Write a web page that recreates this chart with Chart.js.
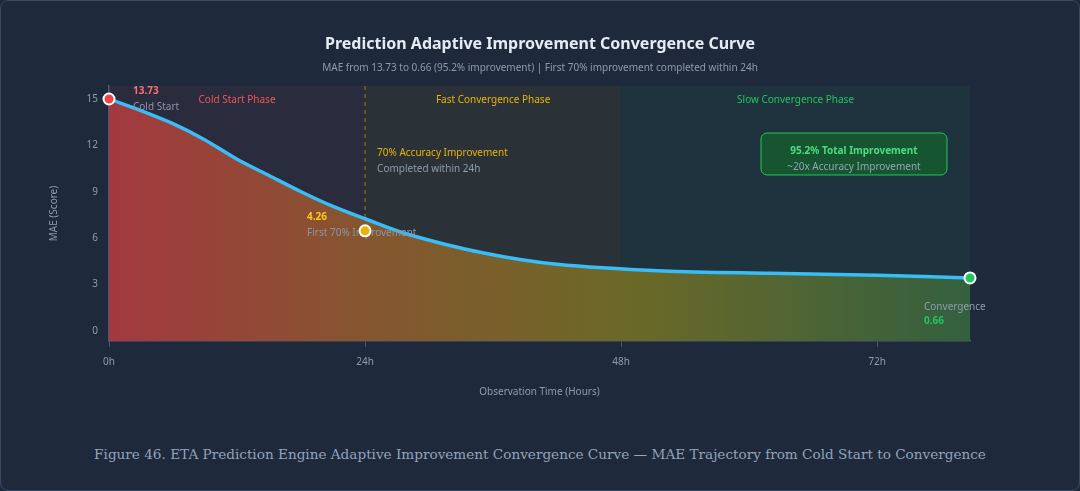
<!DOCTYPE html>
<html lang="en">
<head>
<meta charset="UTF-8">
<title>Prediction Adaptive Improvement Convergence Curve</title>
<style>
    body{
        margin: 0;
        background: #1e293b;
    }
    .frame{
        position: absolute;
        left: 0; top: 0;
        width: 1080px; height: 491px;
        box-sizing: border-box;
        border: 1px solid #3a4860;
        border-radius: 8px;
        background: #1e2a3c;
    }
    .chartbox{
        position: absolute;
        left: 0; top: 0;
        width: 1080px; height: 430px;
    }
    .caption{
        position: absolute;
        left: 0; top: 446px;
        width: 1080px;
        text-align: center;
        font-family: "DejaVu Serif", serif;
        font-size: 13.6px;
        color: #93a3ba;
    }
</style>
</head>
<body>
<div class="frame"></div>
<div class="chartbox">
    <canvas id="maeChart" width="1080" height="430"></canvas>
</div>
<div class="caption">Figure 46. ETA Prediction Engine Adaptive Improvement Convergence Curve — MAE Trajectory from Cold Start to Convergence</div>

<script src="https://cdn.jsdelivr.net/npm/chart.js"></script>
<script>
// curve (hours, score on the drawn axis)
var hours = [0, 3, 6, 9, 12, 15, 18, 21, 24, 28, 35, 42, 52, 62, 72, 80.7];
var maeCurve = [15.0, 14.25, 13.4, 12.35, 11.1, 10.05, 9.0, 8.05, 7.25, 6.25, 5.05, 4.3, 3.87, 3.72, 3.6, 3.42];

// milestone markers: cold start, 24h, convergence
var milestoneHours = [0, 24, 80.7];
var milestoneValues = [15.0, 6.47, 3.42];
var milestoneColors = ['#ef4444', '#eab308', '#22c55e'];

// phase bands
var phaseNames = ['Cold Start Phase', 'Fast Convergence Phase', 'Slow Convergence Phase'];
var phaseStart = [0, 24, 48];
var phaseEnd = [24, 48, 80.7];
var phaseColors = ['rgba(239,68,68,0.06)', 'rgba(234,179,8,0.06)', 'rgba(34,197,94,0.06)'];
var phaseTextColors = ['#f05656', '#eab308', '#22c55e'];

var xTicks = [0, 24, 48, 72];
var yTicks = [0, 3, 6, 9, 12, 15];

var FONT = '"Noto Sans", "Open Sans", sans-serif';

var curvePoints = [];
for (var i = 0; i < hours.length; i++) {
    curvePoints.push({x: hours[i], y: maeCurve[i]});
}
var markerPoints = [];
for (var i = 0; i < milestoneHours.length; i++) {
    markerPoints.push({x: milestoneHours[i], y: milestoneValues[i]});
}

function txt(ctx, s, x, y, color, bold, align) {
    ctx.font = (bold ? 'bold ' : '') + '10px ' + FONT;
    ctx.fillStyle = color;
    ctx.textAlign = align || 'left';
    ctx.textBaseline = 'middle';
    ctx.fillText(s, x, y);
}

var bgPlugin = {//背景的階段色塊 + 標題
    id: 'bands',
    beforeDatasetsDraw: function(chart) {
        var ctx = chart.ctx;
        var xs = chart.scales.x;
        var a = chart.chartArea;
        ctx.save();
        for (var i = 0; i < phaseNames.length; i++) {
            var l = xs.getPixelForValue(phaseStart[i]);
            var r = xs.getPixelForValue(phaseEnd[i]);
            ctx.fillStyle = phaseColors[i];
            ctx.fillRect(l, a.top, r - l, a.bottom - a.top);
            txt(ctx, phaseNames[i], (l + r) / 2, a.top + 14, phaseTextColors[i], false, 'center');
        }
        // 24h dashed line
        var x24 = xs.getPixelForValue(24);
        ctx.beginPath();
        ctx.setLineDash([4, 4]);
        ctx.moveTo(x24, a.top);
        ctx.lineTo(x24, a.bottom);
        ctx.lineWidth = 1;
        ctx.strokeStyle = 'rgba(202,138,4,0.8)';
        ctx.stroke();
        ctx.setLineDash([]);
        ctx.restore();
    },
    afterDraw: function(chart) {
        var ctx = chart.ctx;
        ctx.save();
        ctx.font = 'bold 16px ' + FONT;
        ctx.fillStyle = '#e5ebf3';
        ctx.textAlign = 'center';
        ctx.textBaseline = 'middle';
        ctx.fillText('Prediction Adaptive Improvement Convergence Curve', 540, 44);
        txt(ctx, 'MAE from 13.73 to 0.66 (95.2% improvement) | First 70% improvement completed within 24h', 540, 68, '#8d9bb0', false, 'center');
        ctx.restore();
    }
};

var notePlugin = {//曲線上的文字說明
    id: 'notes',
    afterDatasetDraw: function(chart, args) {
        if (args.index !== 1) return;
        var ctx = chart.ctx;
        var xs = chart.scales.x;
        var ys = chart.scales.y;
        var a = chart.chartArea;
        ctx.save();
        var x0 = xs.getPixelForValue(0), y0 = ys.getPixelForValue(15);
        txt(ctx, '13.73', x0 + 24, y0 - 8, '#f87171', true);
        txt(ctx, 'Cold Start', x0 + 24, y0 + 8, '#8a96a8');

        var x24 = xs.getPixelForValue(24);
        txt(ctx, '70% Accuracy Improvement', x24 + 12, ys.getPixelForValue(11.5), '#eab308');
        txt(ctx, 'Completed within 24h', x24 + 12, ys.getPixelForValue(10.45), '#8f9cae');

        var ym = ys.getPixelForValue(6.47);
        txt(ctx, '4.26', x24 - 58, ym - 14, '#facc15', true);
        txt(ctx, 'First 70% Improvement', x24 - 58, ym + 2, '#8a96a8');

        // summary box
        var bx = a.right - 209, by = ys.getPixelForValue(12.8), bw = 186, bh = 42;
        ctx.beginPath();
        ctx.roundRect(bx, by, bw, bh, 6);
        ctx.fillStyle = '#175530';
        ctx.fill();
        ctx.lineWidth = 1;
        ctx.strokeStyle = '#22c55e';
        ctx.stroke();
        txt(ctx, '95.2% Total Improvement', bx + bw / 2, by + 18, '#4ade80', true, 'center');
        txt(ctx, '~20x Accuracy Improvement', bx + bw / 2, by + 34, '#94a3b8', false, 'center');

        var xe = xs.getPixelForValue(80.7);
        txt(ctx, 'Convergence', xe - 46, ys.getPixelForValue(1.5), '#8f9cae');
        txt(ctx, '0.66', xe - 46, ys.getPixelForValue(0.6), '#22c55e', true);
        ctx.restore();
    }
};

var ctx2 = document.getElementById('maeChart').getContext('2d');
var maeChart = new Chart(ctx2, {
    type: 'line',
    data: {
        datasets: [{
            type: 'scatter',
            label: 'milestones',
            data: markerPoints,
            pointRadius: 5.5,
            pointHoverRadius: 5.5,
            pointBorderWidth: 2,
            pointBorderColor: '#ffffff',
            pointBackgroundColor: milestoneColors,
            showLine: false,
            clip: false
        }, {
            label: 'MAE',
            data: curvePoints,
            borderColor: '#38bdf8',
            borderWidth: 3.5,
            pointRadius: 0,
            tension: 0.3,
            fill: 'start',
            backgroundColor: function(c) {
                var a = c.chart.chartArea;
                if (!a) return 'rgba(160,60,60,0.8)';
                var g = c.chart.ctx.createLinearGradient(a.left, 0, a.right, 0);
                g.addColorStop(0, '#a3383f');
                g.addColorStop(0.3, '#85562f');
                g.addColorStop(0.6, '#6c6927');
                g.addColorStop(1, '#33603f');
                return g;
            }
        }]
    },
    options: {
        responsive: false,
        animation: false,
        devicePixelRatio: 1,
        layout: {
            padding: {left: 45, right: 110, top: 86, bottom: 28}
        },
        plugins: {
            legend: {display: false},
            tooltip: {enabled: false}
        },
        scales: {
            x: {
                type: 'linear',
                min: 0,
                max: 80.7,
                afterBuildTicks: function(s) { s.ticks = xTicks.map(function(v){ return {value: v}; }); },
                afterFit: function(s) { s.height = 61; },
                grid: {drawOnChartArea: false, drawTicks: true, tickLength: 6, color: '#4a5870'},
                border: {display: true, color: '#4a5870', width: 1.5},
                ticks: {
                    padding: 9,
                    color: '#8d9bb0',
                    font: {family: FONT, size: 10},
                    callback: function(v) { return v + 'h'; }
                },
                title: {
                    display: true,
                    text: 'Observation Time (Hours)',
                    color: '#8d9bb0',
                    font: {family: FONT, size: 10},
                    padding: {top: 4, bottom: 4}
                }
            },
            y: {
                min: -0.66,
                max: 15.84,
                afterBuildTicks: function(s) { s.ticks = yTicks.map(function(v){ return {value: v}; }); },
                afterFit: function(s) { s.width = 64; },
                grid: {display: false, drawTicks: false},
                border: {display: true, color: '#4a5870', width: 1.5},
                ticks: {
                    padding: 11,
                    color: '#8d9bb0',
                    font: {family: FONT, size: 10}
                },
                title: {
                    display: true,
                    text: 'MAE (Score)',
                    color: '#8d9bb0',
                    font: {family: FONT, size: 10},
                    padding: {top: 3, bottom: 3}
                }
            }
        }
    },
    plugins: [bgPlugin, notePlugin]
});
</script>
</body>
</html>
